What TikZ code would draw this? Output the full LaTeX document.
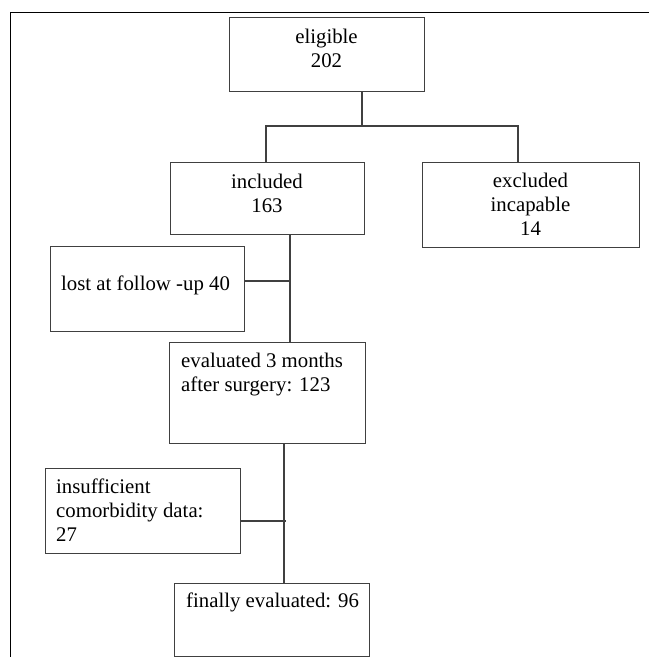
\documentclass[tikz,border=0pt]{standalone}
\usepackage{fontspec}
\setmainfont{Liberation Serif}
\definecolor{boxgray}{HTML}{404040}
\begin{document}
\begin{tikzpicture}[x=1pt,y=-1pt,
  box/.style={draw=boxgray, line width=1.1pt, rectangle, inner sep=0pt, anchor=north west},
  lbl/.style={font=\fontsize{20.8}{24}\selectfont, inner sep=0pt, text=black},
  conn/.style={draw=boxgray, line width=1.1pt},
  frame/.style={draw=black, line width=1.6pt}]
\useasboundingbox (0,0) rectangle (649,657);
% frame
\draw[frame] (649,12.5) -- (10.5,12.5) -- (10.5,657);
% boxes
\node[box, minimum width=195pt, minimum height=74pt] (elig) at (229,17) {};
\node[box, minimum width=194pt, minimum height=72pt] (incl) at (170,162) {};
\node[box, minimum width=217pt, minimum height=85pt] (excl) at (422,162) {};
\node[box, minimum width=194pt, minimum height=85pt] (lost) at (50,246) {};
\node[box, minimum width=196pt, minimum height=101pt] (eval) at (169,342) {};
\node[box, minimum width=195pt, minimum height=85pt] (insuf) at (45,468) {};
\node[box, minimum width=195pt, minimum height=73pt] (final) at (174,583) {};
% texts (anchor base = baseline of the last line)
\node[lbl, align=center, anchor=base] (eligT) at (326.5,67) {eligible\\202};
\node[lbl, align=center, anchor=base] (inclT) at (267,212) {included\\163};
\node[lbl, align=center, anchor=base] (exclT) at (530.5,235) {excluded\\incapable\\14};
\node[lbl, align=left, anchor=base west] (lostT) at (61,290) {lost at follow -up 40};
\node[lbl, align=left, anchor=base west] (evalT) at (181,391) {evaluated 3 months\\after surgery: 123};
\node[lbl, align=left, anchor=base west] (insufT) at (56,541) {insufficient\\comorbidity data:\\27};
\node[lbl, align=left, anchor=base west] (finalT) at (186,607) {finally evaluated: 96};
% junction coordinates
\coordinate (j1) at (362,126);
\coordinate (jl) at (266,126);
\coordinate (jr) at (518,126);
\coordinate (k1) at (290,281);
\coordinate (k2) at (284,521);
\coordinate (k2e) at (286,521);
% connectors
\draw[conn] (elig.south -| j1) -- (j1);
\draw[conn] (incl.north -| jl) -- (jl) -- (jr) -- (excl.north -| jr);
\draw[conn] (incl.south -| k1) -- (eval.north -| k1);
\draw[conn] (lost.east |- k1) -- (k1);
\draw[conn] (eval.south -| k2) -- (final.north -| k2);
\draw[conn] (insuf.east |- k2) -- (k2e);
\end{tikzpicture}
\end{document}
